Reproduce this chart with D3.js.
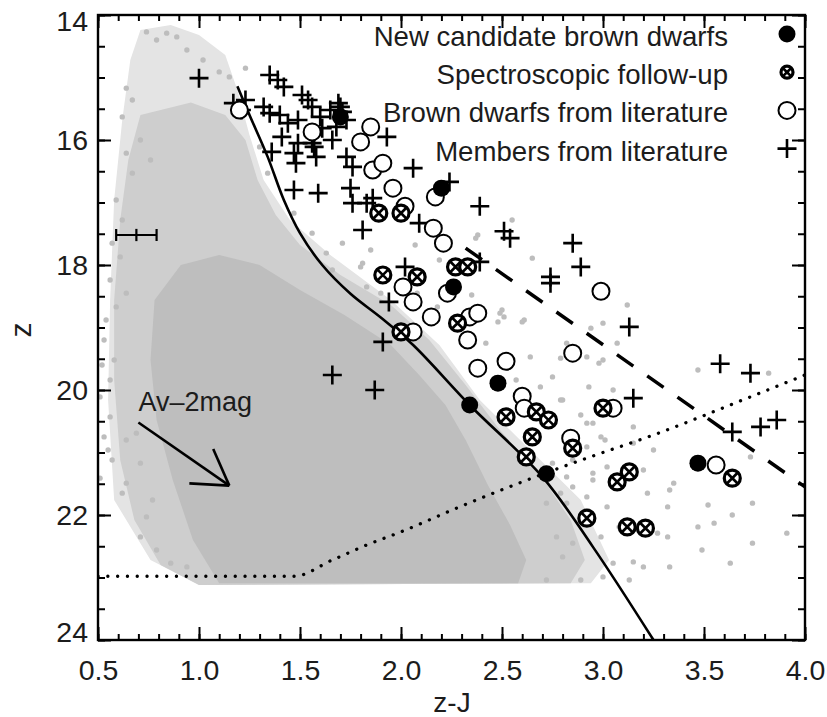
<!DOCTYPE html>
<html>
<head>
<meta charset="utf-8">
<script src="https://cdn.jsdelivr.net/npm/d3@7/dist/d3.min.js"></script>
<style>
  body { margin: 0; background: #fff; }
  svg { display: block; }
  text { font-family: "Liberation Sans", Arial, Helvetica, sans-serif; fill: #1c1c1c; }
</style>
</head>
<body>
<svg id="chart" width="827" height="717"></svg>
<script>
// ---- Colour–magnitude diagram data (z vs z-J) ----

// Field-star density envelopes (z-J, z): sparse, intermediate and dense regions
const fieldOuter = [[0.71,14.24],[0.86,14.16],[1.00,14.32],[1.13,14.64],[1.19,15.20],[1.25,15.92],[1.32,16.64],[1.45,17.28],[1.65,17.84],[1.95,18.56],[2.19,19.28],[2.39,20.16],[2.64,20.96],[2.89,21.76],[3.03,22.72],[2.94,23.09],[1.00,23.12],[0.76,22.72],[0.58,21.76],[0.55,20.16],[0.56,18.56],[0.58,16.96],[0.62,15.68],[0.66,14.72]];
const fieldMid = [[0.71,15.60],[0.96,15.40],[1.13,15.60],[1.23,16.00],[1.29,16.64],[1.38,17.20],[1.50,17.68],[1.70,18.16],[1.95,18.64],[2.14,19.20],[2.32,19.92],[2.49,20.64],[2.69,21.36],[2.84,22.08],[2.91,22.72],[2.84,23.09],[1.00,23.12],[0.81,22.80],[0.68,22.08],[0.61,21.12],[0.58,19.84],[0.58,18.56],[0.61,17.28],[0.65,16.32]];
const fieldCore = [[1.10,23.09],[2.58,23.09],[2.62,22.72],[2.54,22.16],[2.43,21.52],[2.32,20.80],[2.22,20.24],[2.09,19.76],[1.95,19.28],[1.72,18.80],[1.50,18.40],[1.30,18.00],[1.10,17.84],[0.91,18.00],[0.78,18.56],[0.76,19.52],[0.79,20.48],[0.87,21.44],[0.97,22.40]];

// Individual field stars away from the dense cloud
const fieldX = [0.74,0.79,0.84,0.89,0.94,1.02,1.10,1.15,1.23,0.64,0.67,0.62,0.71,0.64,0.76,0.67,0.59,0.62,0.57,0.61,0.56,0.64,0.59,0.54,
  1.30,1.34,1.47,1.56,1.63,1.71,1.66,1.80,1.83,1.90,1.85,1.81,2.19,2.08,2.18,2.55,2.38,2.37,2.65,2.07,2.35,2.50,2.61,2.48,2.51,2.60,2.42,
  3.12,3.00,2.94,3.07,2.82,2.98,3.47,3.82,2.92,3.00,2.75,3.05,3.15,2.49,2.64,2.79,2.93,2.80,2.89,2.95,3.01,2.92,3.02,2.95,2.85,2.79,
  3.33,3.32,3.22,3.52,3.55,3.64,3.74,3.91,3.74,3.49,3.63,3.47,3.73,3.32,3.27,3.15,3.05,3.20,3.33,3.13,3.00,2.89,2.72,2.80,2.85,2.77,2.99,3.08,
  2.72,2.82,2.92,3.02,2.95,2.82,2.75,2.85,2.99,2.92,2.79,2.69,2.57,3.15,3.25,3.20,3.35,
  0.56,0.53,0.55,0.57,0.64,0.71,0.62,0.74,0.71,0.79,0.86,0.94,0.64,0.51,0.51,0.56,0.69,0.77,0.53,0.58,0.52];
const fieldZ = [14.27,14.40,14.29,14.35,14.56,14.72,14.91,14.99,14.85,15.17,15.36,15.63,16.00,16.21,16.32,16.53,16.96,17.28,17.65,17.87,18.24,18.45,18.67,18.88,
  16.11,16.53,17.17,17.49,17.81,17.65,18.08,18.03,18.35,18.45,17.76,17.97,17.92,18.45,18.67,17.28,17.52,17.57,17.89,17.68,18.48,18.72,18.88,18.91,18.83,18.91,19.25,
  18.64,18.93,19.01,19.25,19.25,19.57,19.68,19.73,19.47,19.52,19.79,20.00,20.59,18.77,19.47,19.49,19.95,20.16,20.40,20.53,20.80,20.91,21.23,21.33,21.55,21.65,
  21.60,21.87,21.65,21.84,22.13,22.00,21.81,22.29,22.45,22.56,22.77,22.19,21.07,22.35,22.29,22.75,22.77,22.83,22.83,23.04,22.99,23.04,23.04,22.67,22.45,22.35,22.35,22.19,
  21.81,21.81,21.71,21.87,21.44,21.39,21.17,21.12,20.75,20.53,20.16,19.95,19.84,20.85,20.96,21.28,21.49,
  20.43,20.75,20.96,21.12,20.80,21.17,21.65,22.03,22.35,22.56,22.77,22.83,21.49,21.41,20.11,19.84,20.69,21.76,19.20,19.52,19.60];

// Model isochrone
const isoX = [1.19,1.25,1.34,1.42,1.50,1.61,1.75,1.90,2.06,2.34,2.70,2.95,3.25];
const isoZ = [15.14,15.60,16.27,16.96,17.49,18.00,18.46,18.84,19.28,20.24,21.39,22.51,24.00];

// Selection boundary (dashed)
const cutX = [2.32,4.00];
const cutZ = [17.73,21.55];

// Completeness limit (dotted)
const limX = [0.50,1.47,1.66,1.83,2.00,2.29,2.60,2.92,3.25,3.73,4.00];
const limZ = [22.98,22.98,22.72,22.48,22.27,21.87,21.47,21.09,20.72,20.11,19.76];

// New candidate brown dwarfs
const newX = [1.70,2.20,2.26,2.48,2.34,2.72,3.47];
const newZ = [15.63,16.77,18.35,19.89,20.24,21.34,21.17];

// Spectroscopic follow-up
const specX = [1.89,2.00,1.91,2.08,2.27,2.33,2.00,2.28,2.52,2.67,2.73,2.65,2.62,2.85,3.00,3.07,3.13,2.92,3.12,3.21,3.64];
const specZ = [17.17,17.17,18.16,18.19,18.03,18.03,19.07,18.93,20.43,20.35,20.48,20.75,21.07,20.93,20.29,21.47,21.31,22.05,22.19,22.21,21.41];

// Brown dwarfs from literature
const bdX = [1.20,1.56,1.80,1.85,1.86,1.91,1.96,2.02,2.17,2.16,2.21,2.01,2.06,2.23,2.15,2.34,2.38,2.33,2.06,2.99,2.85,2.52,2.38,2.60,2.61,2.84,3.05,3.56];
const bdZ = [15.52,15.87,16.03,15.79,16.48,16.37,16.77,17.06,16.91,17.41,17.65,18.35,18.59,18.45,18.83,18.83,18.77,19.20,19.07,18.42,19.41,19.54,19.65,20.10,20.29,20.77,20.29,21.20];

// Members from literature
const memX = [1.00,1.35,1.39,1.42,1.51,1.54,1.17,1.23,1.21,1.32,1.35,1.40,1.44,1.49,1.56,1.60,1.65,1.70,1.73,1.69,1.71,1.41,1.47,1.48,1.56,1.58,1.66,1.68,1.36,1.61,1.49,1.57,1.73,1.76,1.47,1.59,1.75,1.76,1.86,1.81,1.93,2.06,2.24,2.39,1.83,2.09,2.51,2.54,2.39,2.02,2.74,2.74,2.85,2.89,3.13,1.94,1.91,1.66,1.87,3.15,3.58,3.73,3.64,3.78,3.86];
const memZ = [15.01,14.96,15.04,15.15,15.28,15.36,15.41,15.36,15.52,15.47,15.57,15.60,15.73,15.68,15.47,15.63,15.52,15.47,15.68,15.41,15.55,15.95,16.21,16.37,16.05,16.27,16.00,15.79,16.19,15.81,16.05,16.11,16.27,16.43,16.80,16.85,16.77,17.01,16.93,17.44,15.95,16.45,16.67,17.06,17.01,17.33,17.46,17.57,17.95,18.03,18.19,18.29,17.65,18.03,18.99,18.59,19.23,19.76,20.00,20.13,19.58,19.73,20.67,20.59,20.48];

// Typical photometric error
const errX = 0.69, errZ = 17.52, errDx = 0.10, errDz = 0.05;

// Reddening vector
const avFrom = [0.70, 20.52], avTo = [1.15, 21.53];
const avLabel = "Av–2mag";

// Legend
const legendLabels = ["New candidate brown dwarfs", "Spectroscopic follow-up", "Brown dwarfs from literature", "Members from literature"];
const legendKinds = ["new", "spec", "bd", "mem"];

// Axis ticks
const xMajor = [0.5,1.0,1.5,2.0,2.5,3.0,3.5,4.0];
const yMajor = [14,16,18,20,22,24];

// ---- Drawing ----
const svg = d3.select("#chart");
const x = d3.scaleLinear().domain([0.5, 4.0]).range([98, 805]);
const y = d3.scaleLinear().domain([14, 24]).range([15, 640]);

svg.append("defs").append("clipPath").attr("id", "plotClip")
  .append("rect").attr("x", 98).attr("y", 15).attr("width", 707).attr("height", 625);

const plot = svg.append("g").attr("clip-path", "url(#plotClip)");

const poly = d3.line().x(d => x(d[0])).y(d => y(d[1])).curve(d3.curveLinearClosed);
plot.append("path").attr("d", poly(fieldOuter)).attr("fill", "#e4e4e4");
plot.append("path").attr("d", poly(fieldMid)).attr("fill", "#cecece");
plot.append("path").attr("d", poly(fieldCore)).attr("fill", "#bebebe");

plot.append("g").selectAll("circle").data(d3.range(fieldX.length)).join("circle")
  .attr("cx", i => x(fieldX[i])).attr("cy", i => y(fieldZ[i])).attr("r", 2.7).attr("fill", "#bdbdbd");

// Lines
plot.append("path")
  .attr("d", d3.line().x(d => x(d[0])).y(d => y(d[1])).curve(d3.curveCatmullRom)(isoX.map((v, i) => [v, isoZ[i]])))
  .attr("fill", "none").attr("stroke", "#000").attr("stroke-width", 2.6);
plot.append("path")
  .attr("d", d3.line().x(d => x(d[0])).y(d => y(d[1]))(cutX.map((v, i) => [v, cutZ[i]])))
  .attr("fill", "none").attr("stroke", "#000").attr("stroke-width", 3.5)
  .attr("stroke-dasharray", "20,17");
plot.append("path")
  .attr("d", d3.line().x(d => x(d[0])).y(d => y(d[1])).curve(d3.curveMonotoneX)(limX.map((v, i) => [v, limZ[i]])))
  .attr("fill", "none").attr("stroke", "#000").attr("stroke-width", 3.3)
  .attr("stroke-linecap", "round").attr("stroke-dasharray", "0.1,9.7");

// Error bar
const eb = plot.append("g").attr("stroke", "#000").attr("stroke-width", 2.2);
eb.append("line").attr("x1", x(errX - errDx)).attr("x2", x(errX + errDx)).attr("y1", y(errZ)).attr("y2", y(errZ));
eb.append("line").attr("x1", x(errX - errDx)).attr("x2", x(errX - errDx)).attr("y1", y(errZ) - 6).attr("y2", y(errZ) + 6);
eb.append("line").attr("x1", x(errX + errDx)).attr("x2", x(errX + errDx)).attr("y1", y(errZ) - 6).attr("y2", y(errZ) + 6);
eb.append("line").attr("x1", x(errX)).attr("x2", x(errX)).attr("y1", y(errZ - errDz) - 3).attr("y2", y(errZ + errDz) + 3);

// Reddening arrow
const ax0 = x(avFrom[0]), ay0 = y(avFrom[1]), ax1 = x(avTo[0]), ay1 = y(avTo[1]);
const ang = Math.atan2(ay1 - ay0, ax1 - ax0);
const ar = plot.append("g").attr("stroke", "#000").attr("stroke-width", 2.6).attr("fill", "none");
ar.append("line").attr("x1", ax0).attr("y1", ay0).attr("x2", ax1).attr("y2", ay1);
[-0.55, 0.55].forEach(da => {
  ar.append("line").attr("x1", ax1).attr("y1", ay1)
    .attr("x2", ax1 - 40 * Math.cos(ang + da)).attr("y2", ay1 - 40 * Math.sin(ang + da));
});
svg.append("text").attr("x", ax0).attr("y", ay0 - 12).attr("font-size", 27).text(avLabel);

// Marker symbols
function drawMarker(g, kind, cx, cy, scale) {
  const s = scale || 1;
  if (kind === "new") {
    g.append("circle").attr("cx", cx).attr("cy", cy).attr("r", 8.5 * s).attr("fill", "#000");
  } else if (kind === "bd") {
    g.append("circle").attr("cx", cx).attr("cy", cy).attr("r", 8.5 * s)
      .attr("fill", "#fff").attr("stroke", "#000").attr("stroke-width", 2);
  } else if (kind === "spec") {
    g.append("circle").attr("cx", cx).attr("cy", cy).attr("r", 8 * s)
      .attr("fill", "#fff").attr("stroke", "#000").attr("stroke-width", 3.2);
    const d = 5.6 * s;
    g.append("path").attr("d", `M${cx - d},${cy - d}L${cx + d},${cy + d}M${cx - d},${cy + d}L${cx + d},${cy - d}`)
      .attr("stroke", "#000").attr("stroke-width", 2.6);
  } else {
    const h = 9.5 * s;
    g.append("path").attr("d", `M${cx - h},${cy}H${cx + h}M${cx},${cy - h}V${cy + h}`)
      .attr("stroke", "#000").attr("stroke-width", 2.6);
  }
}

const marks = plot.append("g");
memX.forEach((v, i) => drawMarker(marks, "mem", x(v), y(memZ[i])));
bdX.forEach((v, i) => drawMarker(marks, "bd", x(v), y(bdZ[i])));
specX.forEach((v, i) => drawMarker(marks, "spec", x(v), y(specZ[i])));
newX.forEach((v, i) => drawMarker(marks, "new", x(v), y(newZ[i])));

// Legend
const leg = svg.append("g");
legendLabels.forEach((lab, i) => {
  const by = 46 + i * 38.2;
  leg.append("text").attr("x", 728).attr("y", by).attr("text-anchor", "end").attr("font-size", 27.6).text(lab);
  drawMarker(leg, legendKinds[i], 787, by - 12, legendKinds[i] === "spec" ? 0.75 : 1);
});

// Axes: inward ticks on all four sides
const xMinor = d3.range(5, 41).map(v => v / 10);
const yMinor = d3.range(28, 49).map(v => v / 2);
function styleAxis(g) {
  g.selectAll(".domain").remove();
  g.selectAll("line").attr("stroke", "#000").attr("stroke-width", 2);
  g.selectAll("text").attr("font-size", 28.5).attr("fill", "#1c1c1c")
    .attr("font-family", "'Liberation Sans', Arial, sans-serif");
}
const axes = [
  [d3.axisBottom(x).tickValues(xMinor).tickSize(-6).tickFormat(""), "translate(0,640)"],
  [d3.axisBottom(x).tickValues(xMajor).tickSize(-13).tickPadding(20).tickFormat(d3.format(".1f")), "translate(0,640)"],
  [d3.axisTop(x).tickValues(xMinor).tickSize(-6).tickFormat(""), "translate(0,15)"],
  [d3.axisTop(x).tickValues(xMajor).tickSize(-13).tickFormat(""), "translate(0,15)"],
  [d3.axisLeft(y).tickValues(yMinor).tickSize(-7).tickFormat(""), "translate(98,0)"],
  [d3.axisLeft(y).tickValues(yMajor).tickSize(-13).tickPadding(10).tickFormat(d3.format("d")), "translate(98,0)"],
  [d3.axisRight(y).tickValues(yMinor).tickSize(-7).tickFormat(""), "translate(805,0)"],
  [d3.axisRight(y).tickValues(yMajor).tickSize(-13).tickFormat(""), "translate(805,0)"]
];
const axisGroups = axes.map(([a, t]) => svg.append("g").attr("transform", t).call(a).call(styleAxis));

// keep the end labels of the z axis inside the frame height
axisGroups[5].selectAll(".tick text").attr("dy", d => d === 14 ? "0.55em" : d === 24 ? "0.05em" : "0.32em");

// Frame
svg.append("rect").attr("x", 98).attr("y", 15).attr("width", 707).attr("height", 625)
  .attr("fill", "none").attr("stroke", "#000").attr("stroke-width", 2.4);

// Axis titles
svg.append("text").attr("x", 452).attr("y", 712).attr("text-anchor", "middle").attr("font-size", 28).text("z-J");
svg.append("text").attr("transform", "translate(31,330) rotate(-90)").attr("text-anchor", "middle")
  .attr("font-size", 30).text("z");
</script>
</body>
</html>
